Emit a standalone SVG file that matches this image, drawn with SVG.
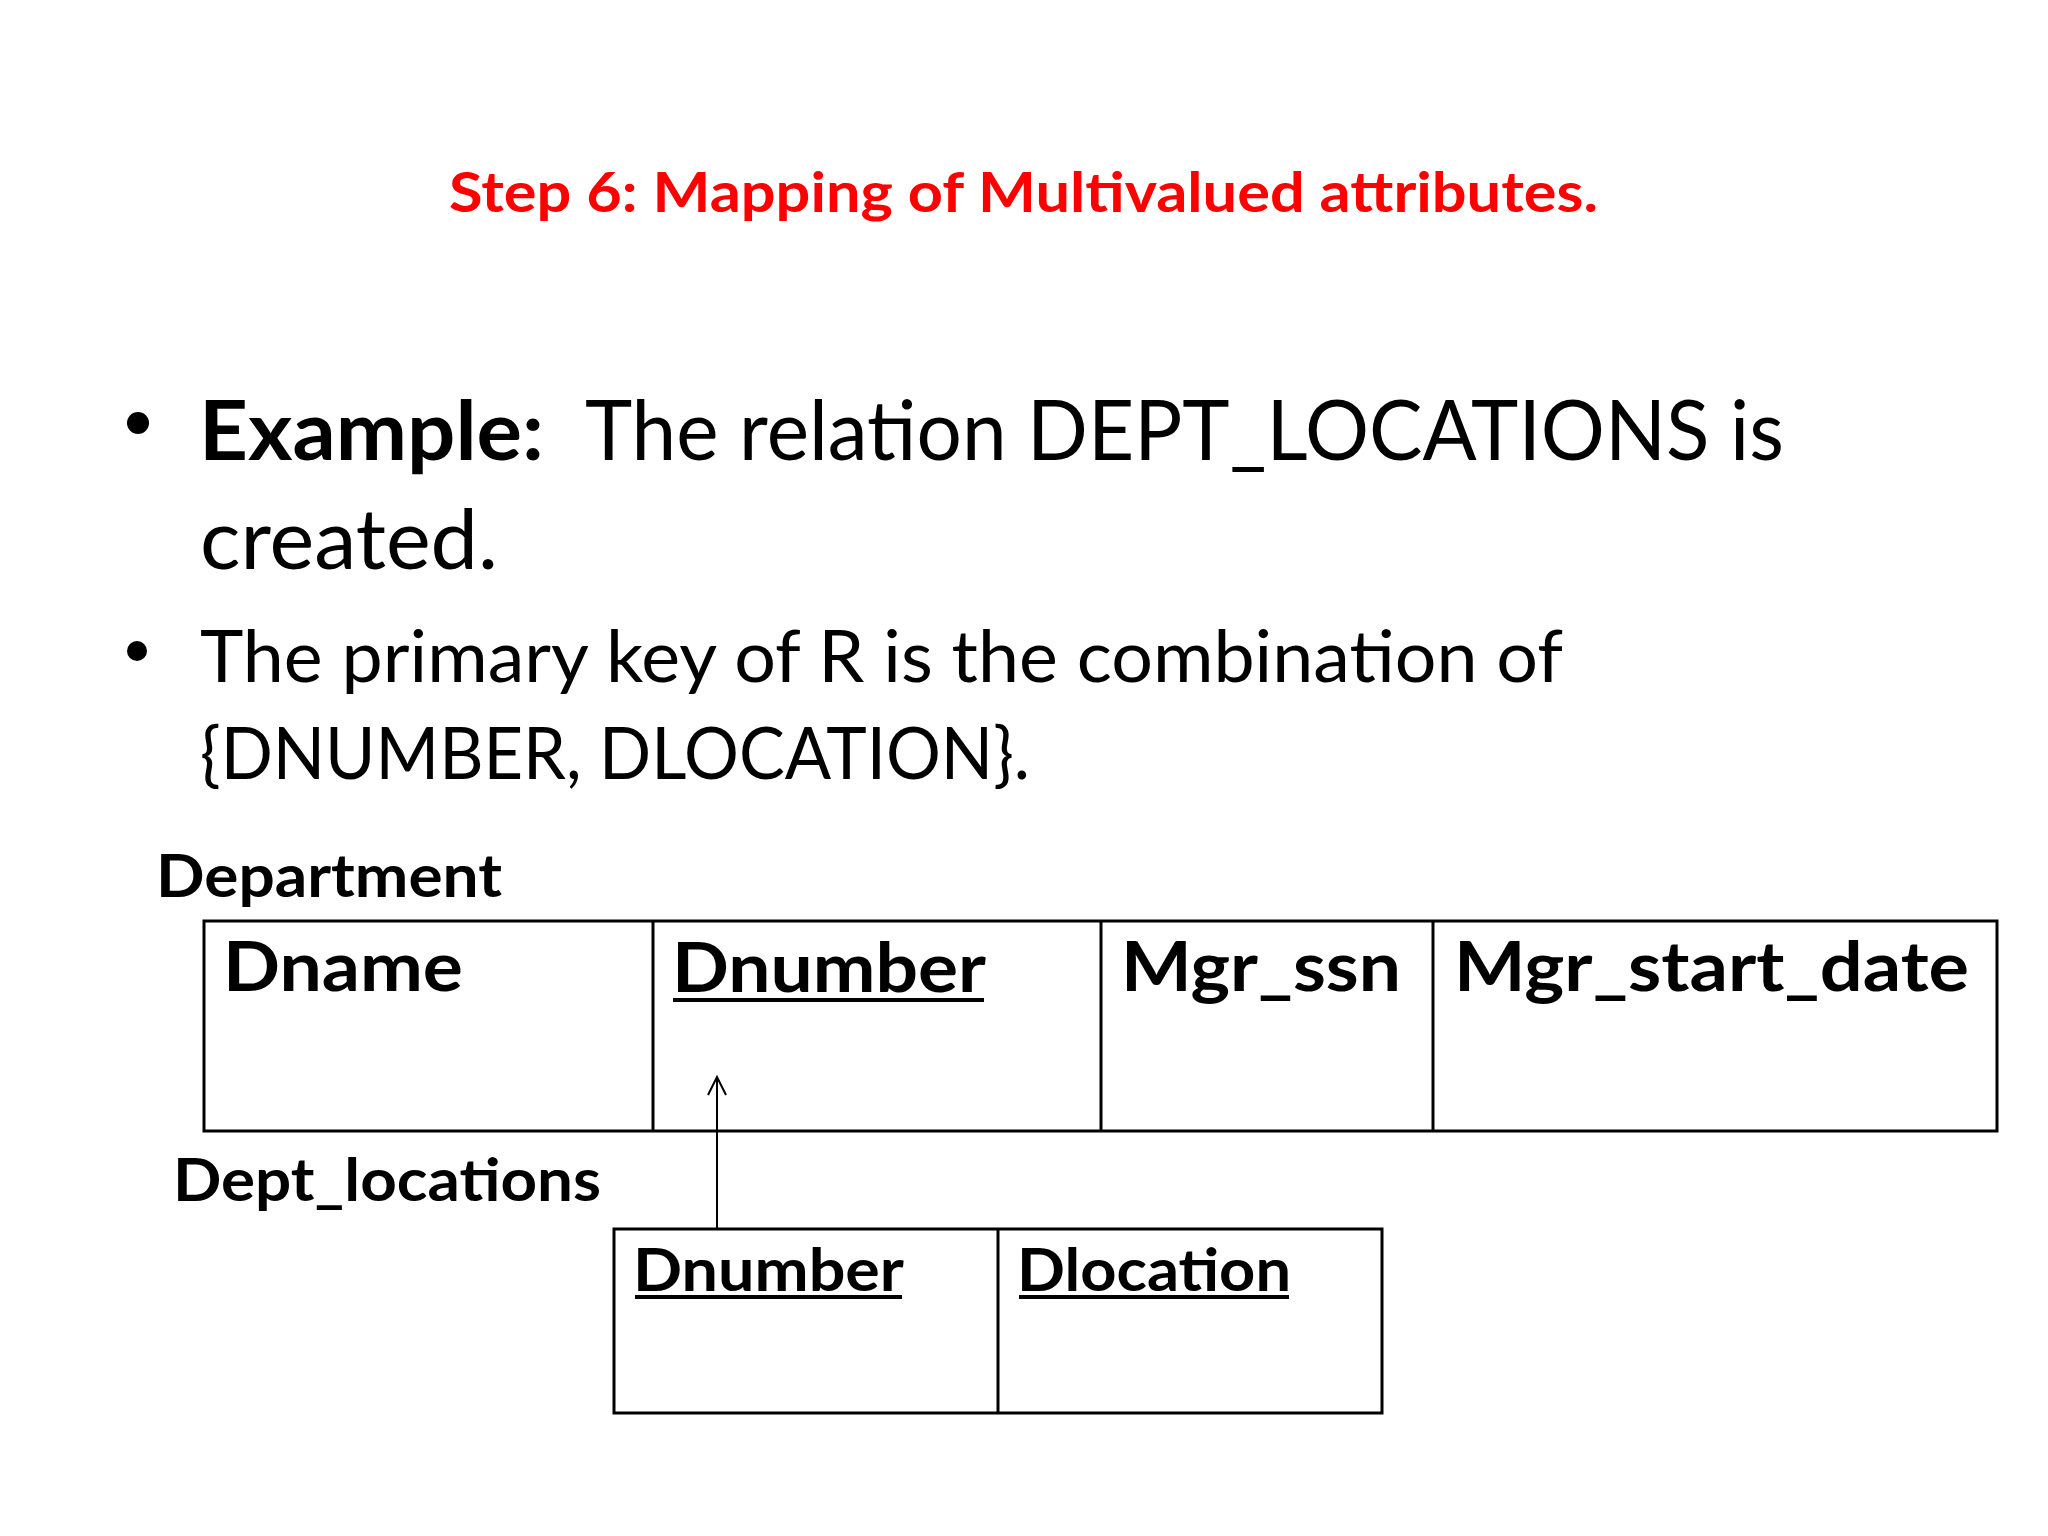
<svg xmlns="http://www.w3.org/2000/svg" width="2048" height="1536" viewBox="0 0 2048 1536">
<defs>
<style>
text{font-family:Lato,"Carlito","Liberation Sans",sans-serif;fill:#000}
.b{font-weight:bold}
.title{font-weight:bold;fill:#FF0000;font-size:56px}
.l1{font-size:83px}
.l2{font-size:71px}
.lbl{font-weight:bold;font-size:60px}
.h1{font-weight:bold;font-size:68px}
.h2{font-weight:bold;font-size:59px}
.cell{fill:none;stroke:#000;stroke-width:3}
.ul{stroke:#000;stroke-width:4}
.conn{fill:none;stroke:#000;stroke-width:2}
</style>
</defs>
<rect width="2048" height="1536" fill="#fff"/>
<g id="title">
<text class="title" x="449" y="212" textLength="1149" lengthAdjust="spacingAndGlyphs">Step 6: Mapping of Multivalued attributes.</text>
</g>
<g id="bullets">
<circle cx="138" cy="423" r="11" fill="#000"/>
<text class="l1 b" x="199" y="460" textLength="345" lengthAdjust="spacingAndGlyphs">Example:</text>
<text class="l1" x="585" y="460" textLength="1199" lengthAdjust="spacingAndGlyphs">The relation DEPT_LOCATIONS is</text>
<text class="l1" x="200" y="569" textLength="298" lengthAdjust="spacingAndGlyphs">created.</text>
<circle cx="137" cy="651" r="10" fill="#000"/>
<text class="l2" x="200" y="682" textLength="1363" lengthAdjust="spacingAndGlyphs">The primary key of R is the combination of</text>
<text class="l2" x="200" y="779" textLength="830" lengthAdjust="spacingAndGlyphs">{DNUMBER, DLOCATION}.</text>
</g>
<g id="department">
<text class="lbl" x="156" y="897" textLength="346" lengthAdjust="spacingAndGlyphs">Department</text>
<rect class="cell" x="204" y="921" width="1793" height="210"/>
<line class="cell" x1="653" y1="921" x2="653" y2="1131"/>
<line class="cell" x1="1101" y1="921" x2="1101" y2="1131"/>
<line class="cell" x1="1433" y1="921" x2="1433" y2="1131"/>
<text class="h1" x="223" y="991" textLength="240" lengthAdjust="spacingAndGlyphs">Dname</text>
<text class="h1" x="672" y="992" textLength="314" lengthAdjust="spacingAndGlyphs">Dnumber</text>
<line class="ul" x1="673" y1="1000" x2="984" y2="1000"/>
<text class="h1" x="1121" y="991" textLength="280" lengthAdjust="spacingAndGlyphs">Mgr_ssn</text>
<text class="h1" x="1454" y="991" textLength="515" lengthAdjust="spacingAndGlyphs">Mgr_start_date</text>
</g>
<g id="dept_locations">
<text class="lbl" x="173" y="1201" textLength="428" lengthAdjust="spacingAndGlyphs">Dept_locations</text>
<rect class="cell" x="614" y="1229" width="768" height="184"/>
<line class="cell" x1="998" y1="1229" x2="998" y2="1413"/>
<text class="h2" x="633" y="1291" textLength="271" lengthAdjust="spacingAndGlyphs">Dnumber</text>
<line class="ul" x1="635" y1="1297" x2="902" y2="1297"/>
<text class="h2" x="1017" y="1291" textLength="274" lengthAdjust="spacingAndGlyphs">Dlocation</text>
<line class="ul" x1="1019" y1="1297" x2="1289" y2="1297"/>
</g>
<g id="connectors">
<path class="conn" d="M717,1229 L717,1077"/>
<path class="conn" d="M708,1095 L717,1077 L726,1095"/>
</g>
</svg>
